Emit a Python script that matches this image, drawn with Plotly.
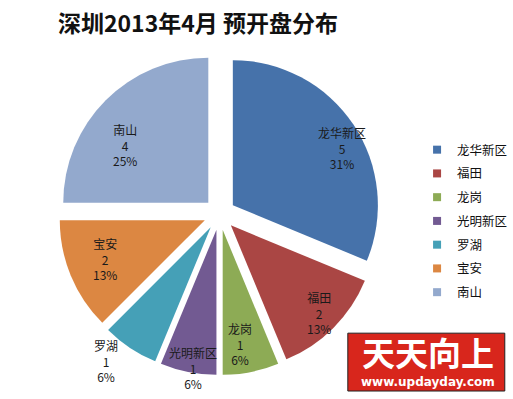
import math
import plotly.graph_objects as go

regions = ["龙华新区", "福田", "龙岗", "光明新区", "罗湖", "宝安", "南山"]
counts = [5, 2, 1, 1, 1, 2, 4]
colors = ["#4672AA", "#AA4644", "#8DAB55", "#725A92", "#45A0B7", "#DC8742", "#93A9CD"]

# label placement relative to each pulled slice's apex - style settings
label_radius = [0.85, 0.855, 0.80, 0.97, 1.17, 0.74, 0.70]   # fraction of radius
label_angle_shift = [5.5, 0.0, 2.4, -1.5, 4.0, 1.0, -9.0]    # degrees

W, H = 513, 399
PULL = 0.11
DOM_X = [0.114, 0.742]
DOM_Y = [0.060, 0.867]

fig = go.Figure()
fig.add_trace(go.Pie(
    labels=regions,
    values=counts,
    sort=False,
    direction="clockwise",
    rotation=0,
    pull=PULL,
    marker=dict(colors=colors, line=dict(width=0)),
    textposition="none",
    showlegend=False,
    domain=dict(x=DOM_X, y=DOM_Y),
    hoverinfo="label+value+percent",
))

# legend entries
for name, c in zip(regions, colors):
    fig.add_trace(go.Scatter(
        x=[None], y=[None], mode="markers", name=name, legendgroup=name,
        marker=dict(symbol="square", size=8, color=c),
        showlegend=True, hoverinfo="skip",
    ))

# data labels positioned from the pie geometry
cx = (DOM_X[0] + DOM_X[1]) / 2 * W
cy = (1 - (DOM_Y[0] + DOM_Y[1]) / 2) * H
R = min((DOM_X[1] - DOM_X[0]) * W, (DOM_Y[1] - DOM_Y[0]) * H) / 2 / (1 + PULL)
total = sum(counts)
annotations = []
cum = 0
for name, v, fr, sh in zip(regions, counts, label_radius, label_angle_shift):
    mid = (cum + v / 2) / total * 2 * math.pi
    cum += v
    ang = mid + math.radians(sh)
    dist = PULL * R + fr * R
    px = cx + math.sin(ang) * dist
    py = cy - math.cos(ang) * dist
    pct = round(v / total * 100 + 1e-9)
    annotations.append(dict(
        text=f"{name}<br>{v}<br>{pct}%", x=px / W, y=1 - py / H,
        xref="paper", yref="paper", showarrow=False,
        xanchor="center", yanchor="middle",
        font=dict(family="Noto Sans CJK SC", size=12, color="#1a1a1a"),
    ))

# watermark logo
annotations += [
    dict(text="<b>天天向上</b>", x=0.834, y=0.118, xref="paper", yref="paper",
         showarrow=False, font=dict(family="Noto Sans CJK SC", size=33, color="white"),
         xanchor="center", yanchor="middle"),
    dict(text="<b>www.updayday.com</b>", x=0.834, y=0.042, xref="paper", yref="paper",
         showarrow=False, font=dict(family="DejaVu Sans", size=12, color="white"),
         xanchor="center", yanchor="middle"),
]

fig.update_layout(
    width=W, height=H,
    margin=dict(l=0, r=0, t=0, b=0, autoexpand=False),
    paper_bgcolor="white",
    plot_bgcolor="white",
    xaxis=dict(visible=False),
    yaxis=dict(visible=False),
    title=dict(
        text="<b>深圳2013年4月 预开盘分布</b>",
        font=dict(family="Noto Sans CJK SC", size=23, color="#111111"),
        x=0.113, xanchor="left", y=0.94, yanchor="middle",
    ),
    legend=dict(
        x=0.813, xanchor="left", y=0.446, yanchor="middle",
        font=dict(family="Noto Sans CJK SC", size=12.5, color="#111111"),
        itemwidth=30, tracegroupgap=4.5,
        bgcolor="rgba(0,0,0,0)",
    ),
    shapes=[dict(type="rect", xref="paper", yref="paper",
                 x0=0.678, x1=0.984, y0=0.020, y1=0.165,
                 fillcolor="#D8261C", line=dict(color="#222222", width=1), layer="below")],
    annotations=annotations,
)

fig.write_html("out.html", config={"displayModeBar": False},
               post_script="document.body.style.margin='0';document.body.style.overflow='hidden';")
